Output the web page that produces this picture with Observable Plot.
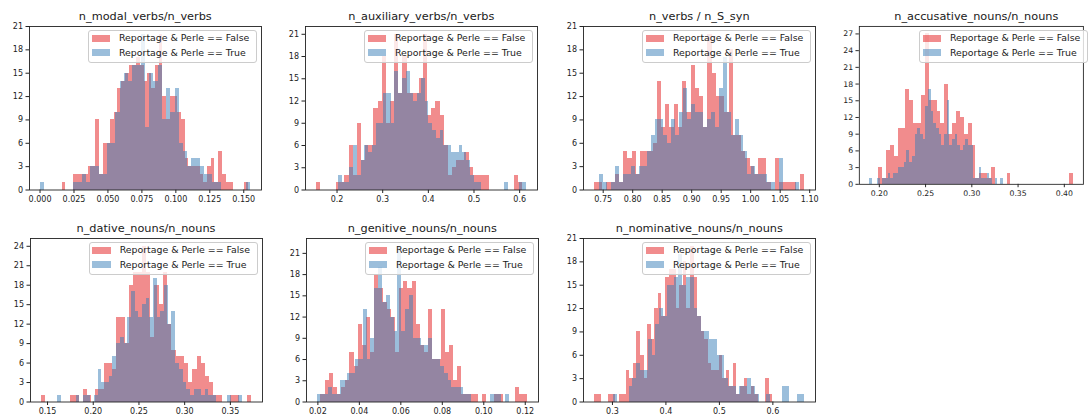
<!DOCTYPE html>
<html><head><meta charset="utf-8">
<script src="https://cdn.jsdelivr.net/npm/d3@7"></script>
<script src="https://cdn.jsdelivr.net/npm/@observablehq/plot@0.6"></script>
<style>
html,body{margin:0;padding:0;background:#fff;}
#fig{position:relative;width:1089px;height:419px;overflow:hidden;font-family:"DejaVu Sans",sans-serif;background:#fff;}
.panel{position:absolute;}
.title{position:absolute;text-align:center;font-size:11.3px;line-height:14px;height:14px;color:#1a1a1a;white-space:nowrap;}
.legend{position:absolute;box-sizing:border-box;background:rgba(255,255,255,0.8);border:1px solid #cccccc;border-radius:3px;font-size:9.4px;color:#1a1a1a;}
.legend .txt{position:absolute;height:12px;line-height:12px;white-space:nowrap;}
.legend .sw{position:absolute;width:18.8px;height:6.6px;opacity:0.5;}
</style></head><body><div id="fig"></div><script>
// ---------------- data ----------------
const titles = ["n_modal_verbs/n_verbs", "n_auxiliary_verbs/n_verbs", "n_verbs / n_S_syn", "n_accusative_nouns/n_nouns", "n_dative_nouns/n_nouns", "n_genitive_nouns/n_nouns", "n_nominative_nouns/n_nouns"];
const seriesLabels = ["Reportage & Perle == False", "Reportage & Perle == True"];
const seriesColors = ["#e41a1c", "#377eb8"];

// histogram ranges (first bin left edge, last bin right edge), 50 bins each
const falseRange = [[0.0162, 0.1535], [0.154, 0.607], [0.7345, 1.092], [0.1993, 0.4096], [0.1429, 0.3736], [0.0215, 0.1213], [0.2656, 0.5995]];
const trueRange  = [[0.0, 0.1553], [0.203, 0.616], [0.743, 1.083], [0.1894, 0.334], [0.161, 0.3628], [0.0196, 0.1125], [0.3025, 0.66]];

const falseCounts = [
  [1,0,0,2,2,2,2,3,3,9, 2,6,6,9,10,13,14,15,16,16, 17,16,14,15,13,16,20,12,9,12, 12,10,9,4,3,3,3,2,1,3, 4,1,5,2,1,1,0,0,0,1],
  [1,0,0,0,0,1,1,2,6,2, 9,4,6,6,11,12,18,9,12,21, 13,18,13,13,13,15,21,10,11,12, 10,6,2,3,4,4,5,3,2,2, 2,2,0,0,0,0,0,0,2,1],
  [1,1,0,1,1,2,1,5,4,5, 2,5,5,5,6,14,8,11,8,11, 8,14,10,16,13,12,8,20,15,12, 12,10,18,7,7,5,4,3,2,4, 4,1,0,4,1,1,1,1,0,2],
  [3,1,6,7,5,10,10,17,15,11, 11,16,27,15,15,13,11,18,9,11, 13,12,9,11,7,1,2,2,1,3, 0,0,0,2,0,0,0,0,0,0, 0,0,0,0,0,0,0,0,0,2],
  [1,0,0,0,0,0,0,1,1,0, 2,1,0,2,2,6,6,5,13,13, 9,18,20,20,24,20,10,18,15,20, 12,8,7,7,6,3,5,7,6,4, 3,1,1,0,0,1,1,0,0,1],
  [1,3,4,2,1,2,3,7,5,11, 8,12,7,18,16,14,13,12,7,16, 17,16,17,11,8,7,13,6,6,13, 7,8,3,5,1,1,1,1,0,1, 0,0,1,1,0,0,0,2,1,1],
  [1,1,0,0,1,1,0,1,1,4, 3,5,9,6,3,10,8,12,14,11, 16,17,17,12,15,18,12,20,16,11, 9,8,5,4,4,6,3,4,2,5, 1,2,3,1,2,1,0,0,3,1]
];
const trueCounts = [
  [1,0,0,0,0,0,0,0,1,1, 2,1,3,3,2,2,6,6,10,14, 15,14,16,16,20,8,15,14,16,9, 13,10,13,6,5,3,4,4,3,2, 2,1,1,0,0,0,0,0,0,1],
  [2,1,1,3,6,2,4,6,5,6, 9,9,13,13,9,16,13,15,16,13, 12,13,15,12,9,8,7,8,6,6, 5,5,6,5,4,2,1,1,0,0, 0,0,0,0,1,0,0,0,1,1],
  [2,1,0,1,3,1,2,2,3,2, 3,3,5,7,9,9,7,6,9,7, 10,13,9,11,10,10,8,9,10,8, 13,17,10,7,9,7,5,2,3,2, 2,2,1,1,0,4,0,0,0,1],
  [1,0,0,1,0,1,1,2,1,2, 2,3,3,4,6,4,5,9,10,9, 8,14,17,13,11,10,9,7,9,15, 7,8,9,7,6,7,8,7,7,1, 1,3,1,1,2,1,0,1,0,1],
  [1,0,0,0,0,1,0,1,1,0, 1,5,3,3,4,7,9,10,9,13, 17,14,13,15,16,13,19,13,14,18, 12,14,6,5,3,2,1,2,2,1, 2,1,1,0,0,0,1,0,0,1],
  [1,1,1,2,1,1,3,3,4,4, 6,6,13,6,9,16,19,14,15,12, 10,22,10,13,15,9,9,8,8,9, 6,6,5,4,3,2,2,2,1,1, 0,0,0,0,0,1,1,1,0,1],
  [1,0,0,0,2,3,5,4,4,8, 6,10,12,11,15,15,16,19,15,16, 16,12,11,9,9,8,8,6,6,3, 2,2,1,2,2,3,2,1,0,0, 1,0,0,0,2,2,0,0,1,1]
];

const xTicks = [
  [0, 0.025, 0.05, 0.075, 0.1, 0.125, 0.15],
  [0.2, 0.3, 0.4, 0.5, 0.6],
  [0.75, 0.8, 0.85, 0.9, 0.95, 1.0, 1.05, 1.1],
  [0.2, 0.25, 0.3, 0.35, 0.4],
  [0.15, 0.2, 0.25, 0.3, 0.35],
  [0.02, 0.04, 0.06, 0.08, 0.1, 0.12],
  [0.3, 0.4, 0.5, 0.6]
];
const xTickFormats = [".3f", ".1f", ".2f", ".2f", ".2f", ".2f", ".1f"];
const yTickStep = 3;

// ---------------- layout ----------------
const frameLeft = [29.3, 305.3, 583.3, 860.3, 30, 306.3, 583.3];
const frameTop = [26, 26, 26, 26, 238, 238, 238];
const FW = 232, FH = 163.5;
const ML = 34, MR = 6, MT = 2, MB = 22;

function bins(range, counts, series) {
  const [lo, hi] = range, w = (hi - lo) / counts.length;
  return counts.map((c, i) => ({x1: lo + i * w, x2: lo + (i + 1) * w, y: c, series})).filter(d => d.y > 0);
}

const fig = document.getElementById("fig");
titles.forEach((t, p) => {
  const dF = bins(falseRange[p], falseCounts[p], 0);
  const dT = bins(trueRange[p], trueCounts[p], 1);
  const lo = Math.min(falseRange[p][0], trueRange[p][0]);
  const hi = Math.max(falseRange[p][1], trueRange[p][1]);
  const pad = 0.05 * (hi - lo);
  const ymax = 1.05 * d3.max([...falseCounts[p], ...trueCounts[p]]);
  const svg = Plot.plot({
    width: FW + ML + MR, height: FH + MT + MB,
    marginLeft: ML, marginRight: MR, marginTop: MT, marginBottom: MB,
    style: {fontFamily: "DejaVu Sans", fontSize: "8px", color: "#222", background: "transparent", overflow: "visible"},
    x: {domain: [lo - pad, hi + pad], ticks: xTicks[p], tickFormat: d3.format(xTickFormats[p]), tickSize: 3.5, tickPadding: 2.5, label: null},
    y: {domain: [0, ymax], ticks: d3.range(0, ymax + 1e-9, yTickStep), tickSize: 3.5, tickPadding: 3, label: null},
    marks: [
      Plot.rectY(dF, {x1: "x1", x2: "x2", y: "y", fill: seriesColors[0], fillOpacity: 0.5, inset: 0, shapeRendering: "crispEdges"}),
      Plot.rectY(dT, {x1: "x1", x2: "x2", y: "y", fill: seriesColors[1], fillOpacity: 0.5, inset: 0, shapeRendering: "crispEdges"}),
      Plot.frame({stroke: "#222", strokeWidth: 0.9})
    ]
  });
  const holder = document.createElement("div");
  holder.className = "panel";
  holder.style.left = (frameLeft[p] - ML) + "px";
  holder.style.top = (frameTop[p] - MT) + "px";
  holder.appendChild(svg);
  fig.appendChild(holder);

  const title = document.createElement("div");
  title.className = "title";
  title.style.left = frameLeft[p] + "px";
  title.style.width = FW + "px";
  title.style.top = (frameTop[p] - 16) + "px";
  title.textContent = t;
  fig.appendChild(title);

  const lg = document.createElement("div");
  lg.className = "legend";
  const LW = 169, LH = 33;
  lg.style.width = LW + "px";
  lg.style.height = LH + "px";
  lg.style.left = (frameLeft[p] + FW - 4 - LW) + "px";
  lg.style.top = (frameTop[p] + 4) + "px";
  seriesLabels.forEach((s, k) => {
    const sw = document.createElement("div");
    sw.className = "sw";
    sw.style.background = seriesColors[k];
    sw.style.left = "2.4px";
    sw.style.top = (4 + 14.4 * k) + "px";
    lg.appendChild(sw);
    const tx = document.createElement("div");
    tx.className = "txt";
    tx.style.left = "29.7px";
    tx.style.top = (1.3 + 14.4 * k) + "px";
    tx.textContent = s;
    lg.appendChild(tx);
  });
  fig.appendChild(lg);
});
</script></body></html>
